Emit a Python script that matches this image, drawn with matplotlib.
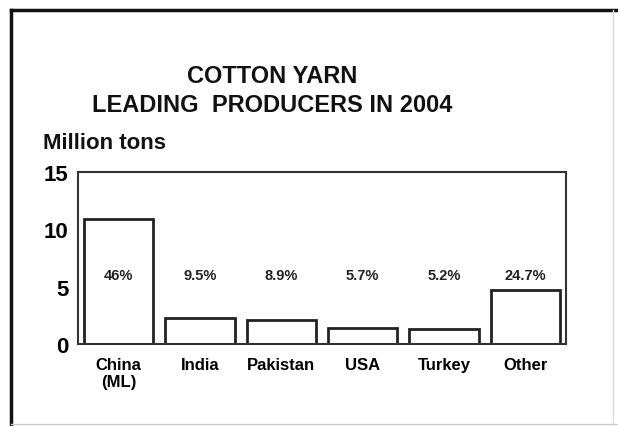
import numpy as np
import matplotlib
matplotlib.use("Agg")
import matplotlib.pyplot as plt
from matplotlib.lines import Line2D

# data
producers = ["China\n(ML)", "India", "Pakistan", "USA", "Turkey", "Other"]
million_tons = [10.9, 2.27, 2.12, 1.4, 1.3, 4.7]
shares = ["46%", "9.5%", "8.9%", "5.7%", "5.2%", "24.7%"]
yticks = [0, 5, 10, 15]

plt.rcParams['font.family'] = ['Liberation Sans', 'DejaVu Sans']
plt.rcParams['font.weight'] = 'bold'

fig = plt.figure(figsize=(6.18, 4.27), dpi=100)
ax = fig.add_axes([0.1262, 0.192, 0.7897, 0.4028])

x = np.arange(len(producers))
ax.bar(x, million_tons, width=0.85, color="white", edgecolor="#222222", linewidth=2)
for xi, s in zip(x, shares):
    ax.text(xi, 6.0, s, ha="center", va="center", fontsize=10.5, fontweight="bold", color="#222222")

ax.set_xlim(-0.5, 5.5)
ax.set_ylim(0, 15)
ax.set_yticks(yticks)
ax.set_xticks(x)
ax.set_xticklabels(producers, fontsize=12, fontweight="bold", linespacing=1.2)
ax.tick_params(axis="y", labelsize=16, length=0, pad=7)
ax.tick_params(axis="x", length=0, pad=9)
for sp in ax.spines.values():
    sp.set_color("#333333")
    sp.set_linewidth(1.5)

fig.text(0.44, 0.82, "COTTON YARN", ha="center", va="center", fontsize=17, fontweight="bold", color="#111111")
fig.text(0.44, 0.754, "LEADING  PRODUCERS IN 2004", ha="center", va="center", fontsize=17, fontweight="bold", color="#111111")
fig.text(0.069, 0.665, "Million tons", ha="left", va="center", fontsize=16, fontweight="bold", color="#111111")

# slide frame
fig.add_artist(Line2D([0.018, 0.018], [0.0, 0.975], transform=fig.transFigure, color="#111111", lw=2.5))
fig.add_artist(Line2D([0.018, 1.0], [0.975, 0.975], transform=fig.transFigure, color="#111111", lw=2.5))
fig.add_artist(Line2D([0.992, 0.992], [0.0, 0.975], transform=fig.transFigure, color="#dddddd", lw=1))
fig.add_artist(Line2D([0.018, 1.0], [0.005, 0.005], transform=fig.transFigure, color="#cccccc", lw=1))

fig.savefig("out.png", dpi=100)
